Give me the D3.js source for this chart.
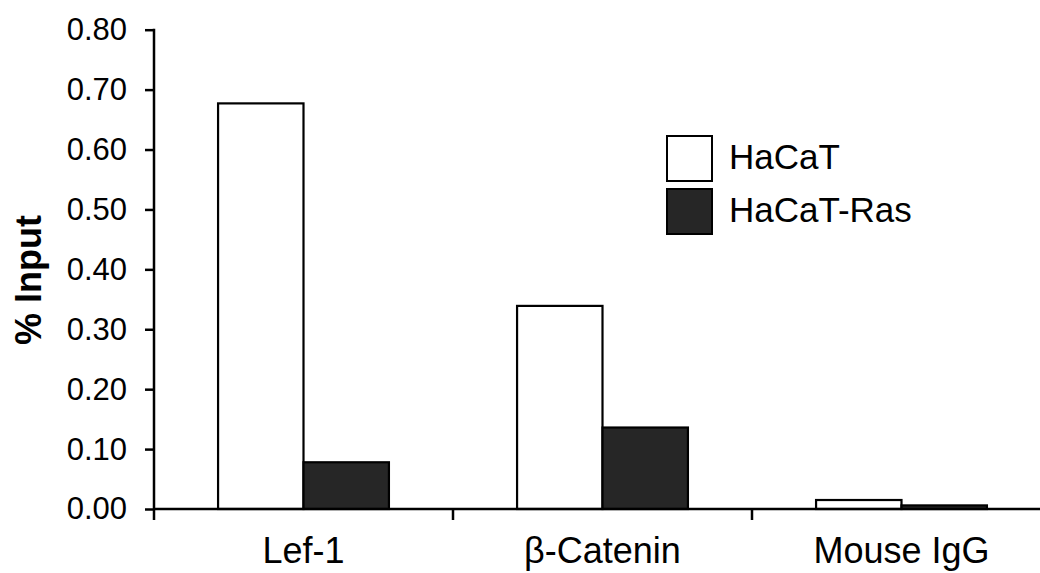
<!DOCTYPE html>
<html>
<head>
<meta charset="utf-8">
<script src="https://cdn.jsdelivr.net/npm/d3@7"></script>
<style>
  body { margin: 0; background: #fff; }
  svg { display: block; font-family: "Liberation Sans", Arial, sans-serif; }
</style>
</head>
<body>
<div id="chart-area"></div>
<script>
var categories = ["Lef-1", "\u03B2-Catenin", "Mouse IgG"];
var seriesNames = ["HaCaT", "HaCaT-Ras"];
var hacat = [0.677, 0.339, 0.015];
var hacatRas = [0.078, 0.136, 0.006];
var yTicks = [0.0, 0.1, 0.2, 0.3, 0.4, 0.5, 0.6, 0.7, 0.8];
var colors = ["#ffffff", "#262626"];

var width = 1040;
var height = 573;

var svg = d3.select('#chart-area')
    .append('svg')
        .attr('width', width)
        .attr('height', height);

var x = d3.scaleBand()
    .domain(categories)
    .range([154, 1051])
    .padding(0);

var xs = d3.scaleBand()
    .domain(seriesNames)
    .range([0, x.bandwidth()])
    .paddingInner(0)
    .paddingOuter(0.75);

var y = d3.scaleLinear()
    .domain([0, 0.8])
    .range([509, 29.7]);

var rows = categories.map((c, i) => {
    return {cat: c, values: [hacat[i], hacatRas[i]]};
});

// bars
var groups = svg.selectAll('g.group').data(rows)
    .enter()
    .append('g')
    .attr('class', 'group')
    .attr('transform', (d) => { return 'translate(' + x(d.cat) + ',0)'; });

groups.selectAll('rect')
    .data((d) => { return d.values.map((v, j) => { return {name: seriesNames[j], value: v, j: j}; }); })
    .enter()
    .append('rect')
    .attr('x', (d) => { return xs(d.name); })
    .attr('y', (d) => { return y(d.value); })
    .attr('width', xs.bandwidth())
    .attr('height', (d) => { return y(0) - y(d.value); })
    .attr('fill', (d) => { return colors[d.j]; })
    .attr('stroke', '#000')
    .attr('stroke-width', 2.2);

// y axis
var yAxis = d3.axisLeft(y)
    .tickValues(yTicks)
    .tickSizeInner(9)
    .tickSizeOuter(0)
    .tickPadding(18)
    .tickFormat(d3.format('.2f'));

var gy = svg.append('g')
    .attr('class', 'left axis')
    .attr('transform', 'translate(154,0)')
    .call(yAxis);
gy.select('.domain').remove();
gy.selectAll('line').attr('stroke', '#000').attr('stroke-width', 2.5);
gy.selectAll('text')
    .attr('font-size', '31px')
    .attr('fill', '#000')
    .attr('font-family', '"Liberation Sans", Arial, sans-serif');

svg.append('line')
    .attr('x1', 154).attr('x2', 154)
    .attr('y1', y(0.8) - 1).attr('y2', y(0) + 11)
    .attr('stroke', '#000').attr('stroke-width', 2.5);

// x axis
var xAxis = d3.axisBottom(x).tickSize(0).tickPadding(0);
var gx = svg.append('g')
    .attr('class', 'bottom axis')
    .attr('transform', 'translate(0,' + y(0) + ')')
    .call(xAxis);
gx.select('.domain').remove();
gx.selectAll('text')
    .attr('y', 54)
    .attr('dy', 0)
    .attr('font-size', '36px')
    .attr('fill', '#000')
    .attr('font-family', '"Liberation Sans", Arial, sans-serif');

svg.append('line')
    .attr('x1', 154).attr('x2', width)
    .attr('y1', y(0)).attr('y2', y(0))
    .attr('stroke', '#000').attr('stroke-width', 2.5);

svg.selectAll('line.cat-tick').data(categories.slice(1))
    .enter()
    .append('line')
    .attr('class', 'cat-tick')
    .attr('x1', (d) => { return x(d); })
    .attr('x2', (d) => { return x(d); })
    .attr('y1', y(0))
    .attr('y2', y(0) + 11)
    .attr('stroke', '#000').attr('stroke-width', 2.5);

// y label
svg.append('text')
    .attr('x', -280)
    .attr('y', 41)
    .attr('transform', 'rotate(-90)')
    .attr('text-anchor', 'middle')
    .attr('font-size', '36px')
    .attr('font-weight', 'bold')
    .text('% Input');

// legend
var legend = svg.selectAll('g.legend').data(seriesNames)
    .enter()
    .append('g')
    .attr('class', 'legend')
    .attr('transform', (d, i) => { return 'translate(667,' + (136 + i * 53) + ')'; });

legend.append('rect')
    .attr('width', 45)
    .attr('height', 45)
    .attr('fill', (d, i) => { return colors[i]; })
    .attr('stroke', '#000')
    .attr('stroke-width', 2);

legend.append('text')
    .attr('x', 62)
    .attr('y', 33)
    .attr('font-size', '35px')
    .attr('fill', '#000')
    .text((d) => { return d; });
</script>
</body>
</html>
